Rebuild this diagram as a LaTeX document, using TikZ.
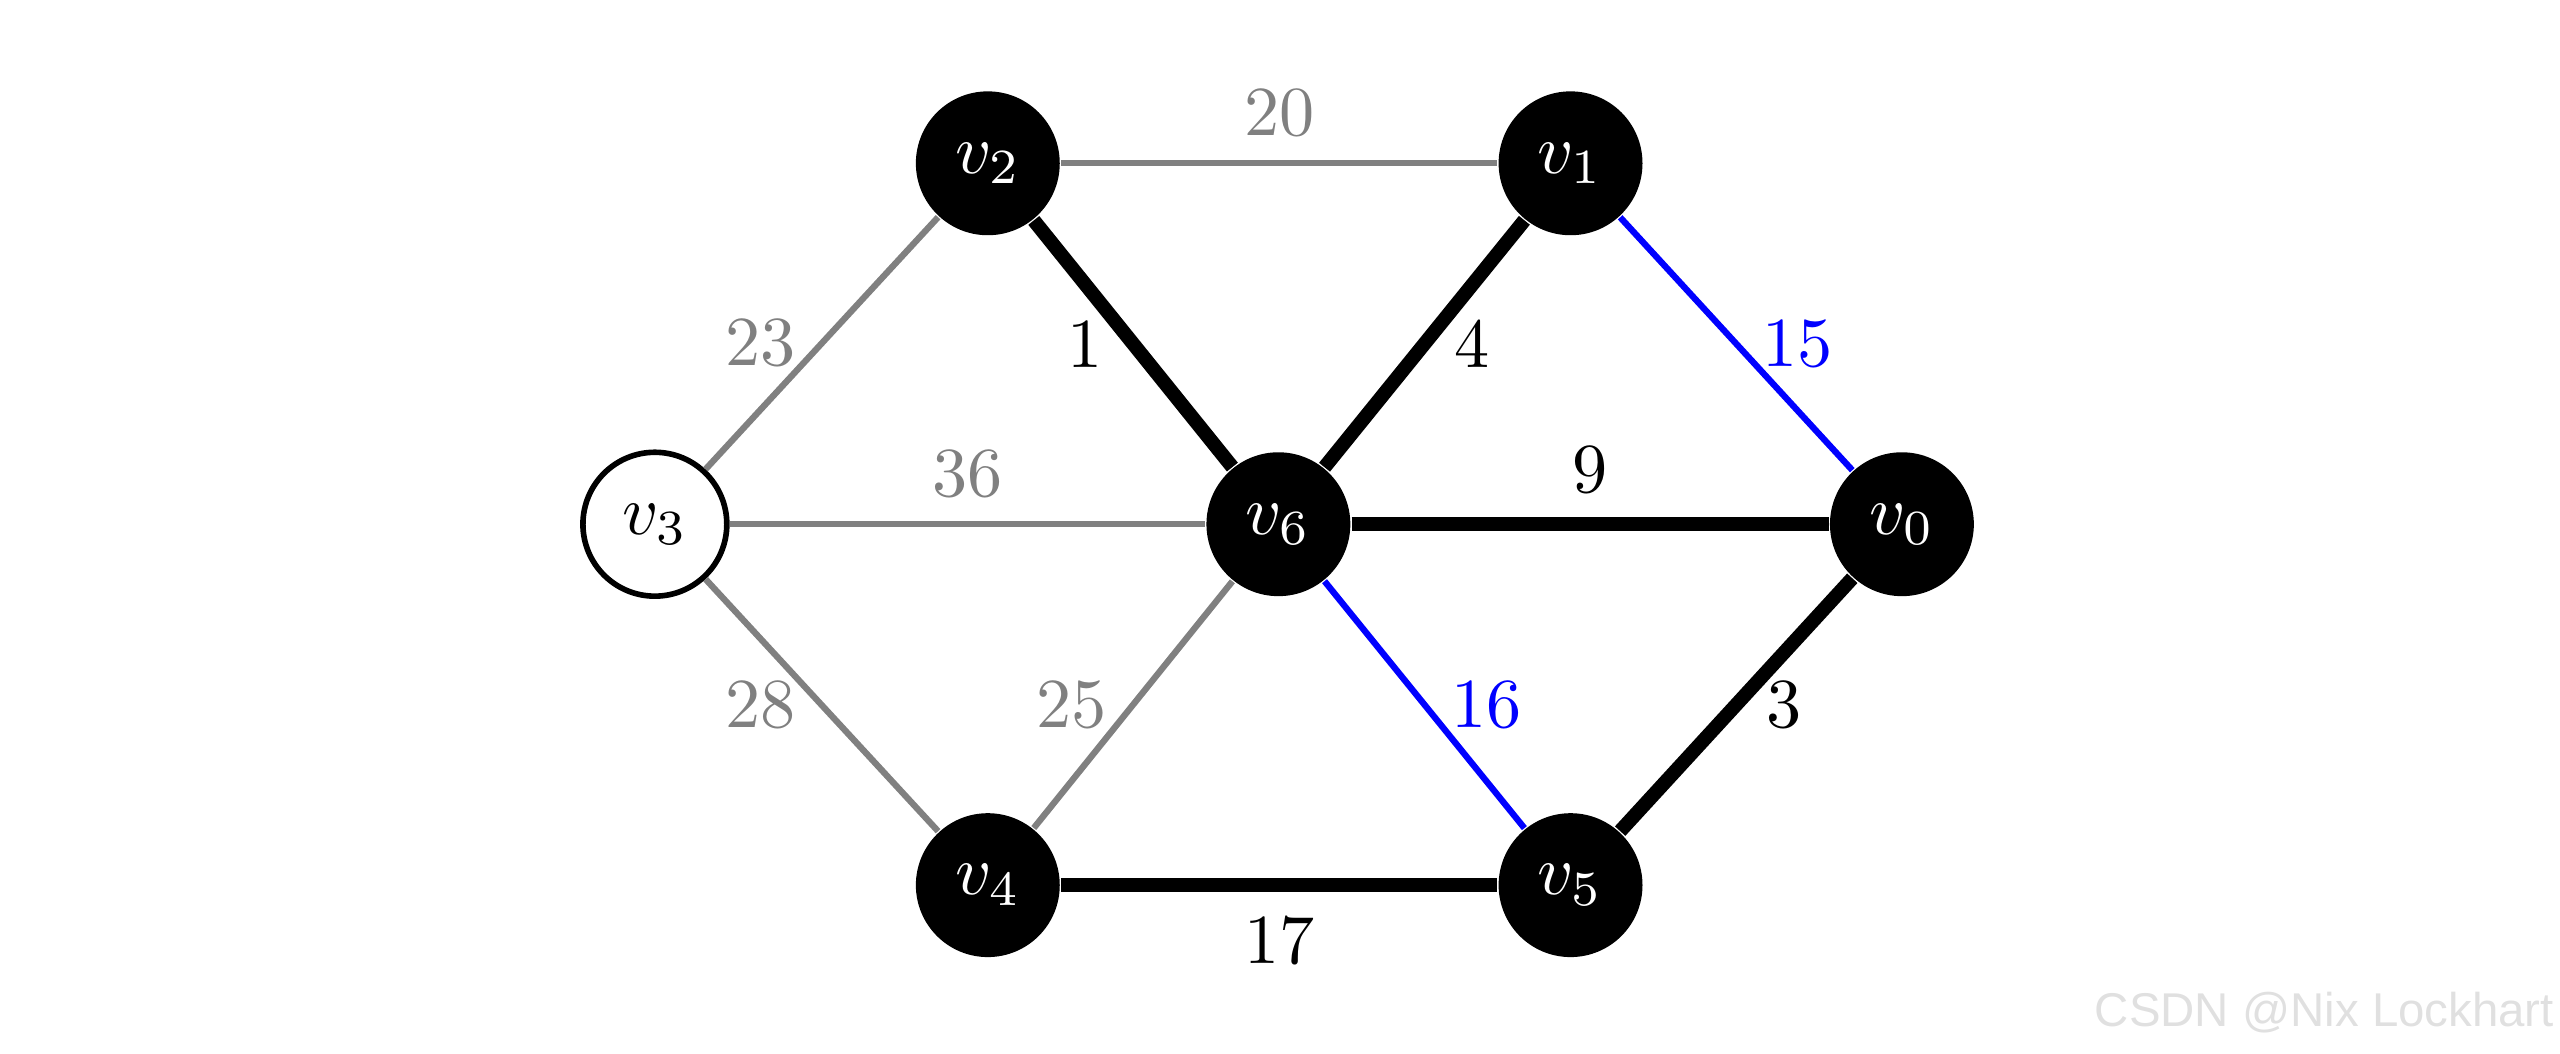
\documentclass[tikz,border=0pt]{standalone}
\usepackage{fontspec}
\newfontfamily\marksans{Liberation Sans}
\begin{document}
\begin{tikzpicture}[
    vertex/.style={circle, fill=black, text=white, minimum size=0.72cm, inner sep=0pt},
    openvertex/.style={circle, draw=black, thick, fill=white, minimum size=0.72cm, inner sep=0pt},
    faint/.style={draw=gray, line width=0.9pt},
    chosen/.style={draw=black, line width=2pt},
    probe/.style={draw=blue, line width=0.9pt},
  ]
  \useasboundingbox (-6.397,-2.647) rectangle (6.413,2.623);
  % vertices
  \node[vertex] (v6) at (0,0) {$v_6$};
  \node[vertex] (v0) at (3.12,0) {$v_0$};
  \node[openvertex] (v3) at (-3.12,0) {$v_3$};
  \node[vertex] (v2) at (-1.454,1.806) {$v_2$};
  \node[vertex] (v1) at (1.462,1.806) {$v_1$};
  \node[vertex] (v4) at (-1.454,-1.806) {$v_4$};
  \node[vertex] (v5) at (1.462,-1.806) {$v_5$};
  % grey edges
  \draw[faint] (v2) -- node[above, text=gray] {20} (v1);
  \draw[faint] (v3) -- node[left, text=gray] {23} (v2);
  \draw[faint] (v3) -- node[above, text=gray] {36} (v6);
  \draw[faint] (v3) -- node[left, text=gray] {28} (v4);
  \draw[faint] (v4) -- node[left, text=gray] {25} (v6);
  % blue edges
  \draw[probe] (v1) -- node[right, text=blue] {15} (v0);
  \draw[probe] (v6) -- node[right, text=blue] {16} (v5);
  % black edges
  \draw[chosen] (v2) -- node[left] {1} (v6);
  \draw[chosen] (v6) -- node[right] {4} (v1);
  \draw[chosen] (v6) -- node[above] {9} (v0);
  \draw[chosen] (v5) -- node[right] {3} (v0);
  \draw[chosen] (v4) -- node[below] {17} (v5);
  % watermark
  \node[anchor=east, text=black!12, font=\marksans\fontsize{6.75}{8}\selectfont, inner sep=0pt] (mark) at (6.39,-2.443) {CSDN @Nix Lockhart};
\end{tikzpicture}
\end{document}
